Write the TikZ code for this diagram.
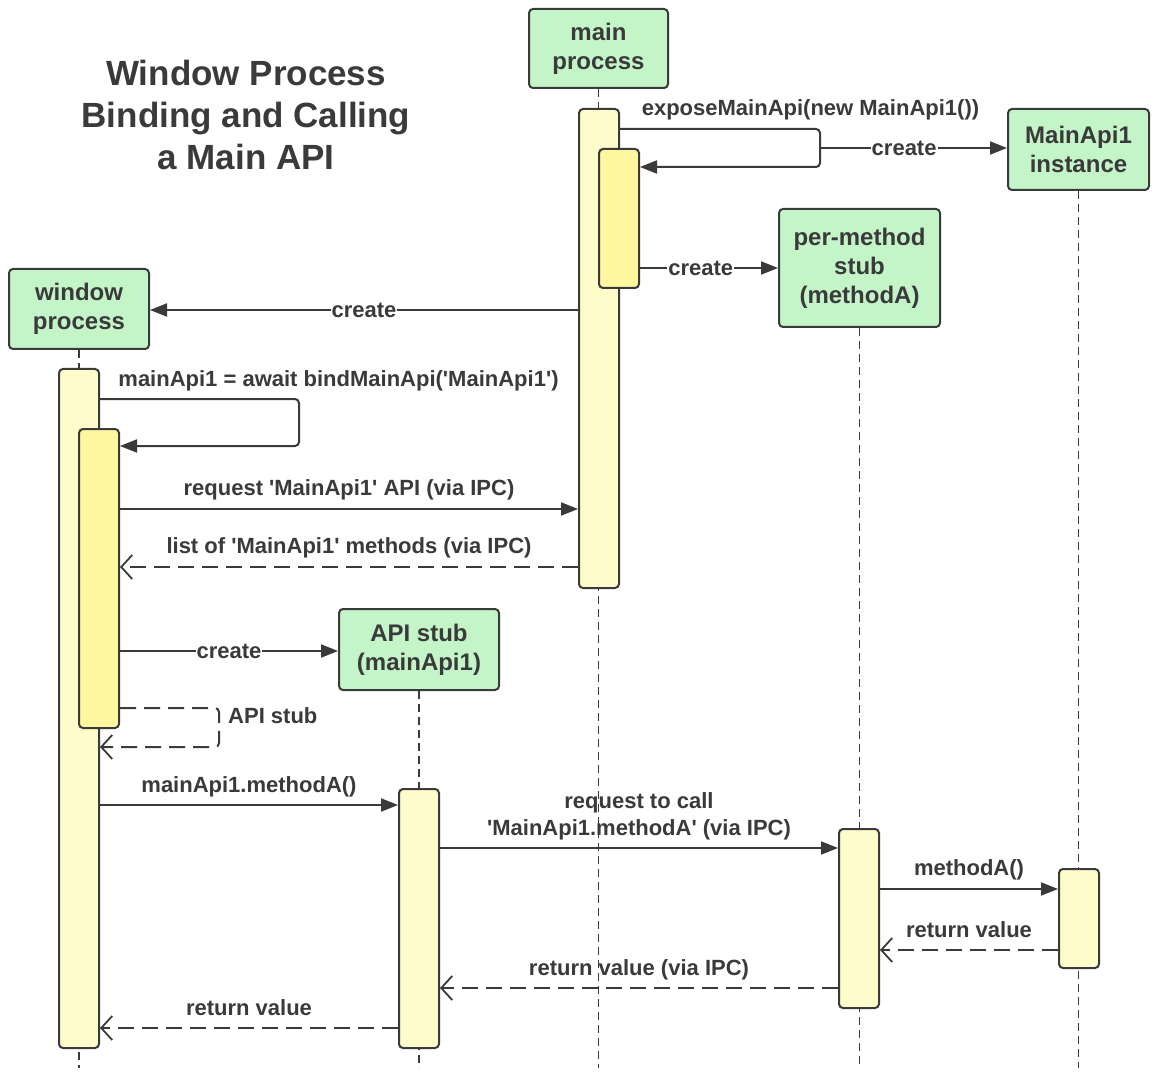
\documentclass[tikz,border=0pt]{standalone}
\usepackage{fontspec}
\setmainfont{Liberation Sans}
\usetikzlibrary{arrows.meta}
\definecolor{ink}{HTML}{3A3A3A}
\definecolor{boxgreen}{HTML}{C3F5C8}
\definecolor{actpale}{HTML}{FFFCCB}
\definecolor{actyel}{HTML}{FFF7A0}
\newcommand{\sq}{\textquotesingle}
\begin{document}
\begin{tikzpicture}[x=1pt,y=-1pt,
  lifebox/.style={draw=ink,line width=2pt,fill=boxgreen,rounded corners=4pt,align=center,inner sep=0pt,
    font=\fontsize{24}{29}\selectfont\bfseries,text=ink},
  actbox/.style={draw=ink,line width=2pt,fill=actpale,rounded corners=4pt,minimum width=40pt,inner sep=0pt},
  actinner/.style={actbox,fill=actyel},
  lifeline/.style={draw=ink,line width=1.5pt,dash pattern=on 8pt off 5pt},
  msg/.style={draw=ink,line width=2pt,-{Triangle[length=17pt,width=13pt]}},
  ret/.style={draw=ink,line width=2pt,dash pattern=on 16pt off 8pt,-{Straight Barb[length=11pt,width=24pt,line width=1.8pt]}},
  lbl/.style={font=\fontsize{22}{27}\selectfont\bfseries,text=ink,inner sep=0pt,anchor=base,align=center},
  onlbl/.style={font=\fontsize{22}{27}\selectfont\bfseries,text=ink,fill=white,inner sep=1pt},
  titlelbl/.style={font=\fontsize{35}{42}\selectfont\bfseries,text=ink,inner sep=0pt,anchor=base,align=center}
]
\useasboundingbox (0,0) rectangle (1157,1075);
\fill[white] (0,0) rectangle (1157,1075);
\coordinate (bottom) at (0,1068);

% title (anchor=base refers to the last line)
\node[titlelbl] (title) at (246,170) {Window Process\\Binding and Calling\\a Main API};

% participant boxes
\node[lifebox,minimum width=139pt,minimum height=79pt] (mainBox) at (598.5,48.5) {main\\process};
\node[lifebox,minimum width=141pt,minimum height=81pt] (instBox) at (1078.5,149.5) {MainApi1\\instance};
\node[lifebox,minimum width=161pt,minimum height=118pt] (pmBox) at (859.5,268) {per-method\\stub\\(methodA)};
\node[lifebox,minimum width=140pt,minimum height=80pt] (winBox) at (79,309) {window\\process};
\node[lifebox,minimum width=160pt,minimum height=81pt] (stubBox) at (419,649.5) {API stub\\(mainApi1)};

% lifelines
\draw[lifeline] (mainBox.south) -- (mainBox.south |- bottom);
\draw[lifeline] (instBox.south) -- (instBox.south |- bottom);
\draw[lifeline] (pmBox.south) -- (pmBox.south |- bottom);
\draw[lifeline] (winBox.south) -- (winBox.south |- bottom);
\draw[lifeline] (stubBox.south) -- (stubBox.south |- bottom);

% activations
\node[actbox,minimum height=479pt] (mainOuter) at (599,348.5) {};
\node[actinner,minimum height=139pt] (mainInner) at (619,218.5) {};
\node[actbox,minimum height=679pt] (winOuter) at (79,708.5) {};
\node[actinner,minimum height=299pt] (winInner) at (99,578.5) {};
\node[actbox,minimum height=259pt] (stubAct) at (419,918.5) {};
\node[actbox,minimum height=179pt] (pmAct) at (859,918.5) {};
\node[actbox,minimum height=99pt] (instAct) at (1079,918.5) {};

% exposeMainApi self call
\coordinate (loopA) at (820,148);
\draw[msg,rounded corners=4pt] (mainOuter.east |- 0,129) -- (820,129) -- (820,167) -- (mainInner.east |- 0,167);
\node[lbl] (lExpose) at (810.5,116) {exposeMainApi(new MainApi1())};
\draw[msg] (loopA) -- node[onlbl,pos=0.45] (lCreate1) {create} (instBox.west |- loopA);

% create per-method stub
\draw[msg] (mainInner.east |- pmBox.west) -- node[onlbl,pos=0.44] (lCreate2) {create} (pmBox.west);

% create window
\draw[msg] (mainOuter.west |- 0,310) -- node[onlbl,pos=0.5] (lCreate3) {create} (winBox.east |- 0,310);

% bindMainApi self call
\draw[msg,rounded corners=4pt] (winOuter.east |- 0,399) -- (299,399) -- (299,446) -- (winInner.east |- 0,446);
\node[lbl] (lBind) at (338.5,387) {mainApi1 = await bindMainApi(\sq MainApi1\sq)};

% request API
\draw[msg] (winInner.east |- 0,509) -- (mainOuter.west |- 0,509);
\node[lbl] (lReq) at (349,495) {request \sq MainApi1\sq{} API (via IPC)};

% list of methods
\draw[ret] (mainOuter.west |- 0,567) -- (winInner.east |- 0,567);
\node[lbl] (lList) at (349,553) {list of \sq MainApi1\sq{} methods (via IPC)};

% create API stub
\draw[msg] (winInner.east |- 0,651) -- node[onlbl,pos=0.5] (lCreate4) {create} (stubBox.west |- 0,651);

% API stub return self
\draw[ret,rounded corners=4pt] (winInner.east |- 0,708) -- (219,708) -- (219,747) -- (winOuter.east |- 0,747);
\node[lbl,anchor=base west] (lStub) at (228,723) {API stub};

% mainApi1.methodA()
\draw[msg] (winOuter.east |- 0,805) -- (stubAct.west |- 0,805);
\node[lbl] (lCallA) at (249,792) {mainApi1.methodA()};

% request to call (anchor=base refers to the last line)
\draw[msg] (stubAct.east |- 0,848) -- (pmAct.west |- 0,848);
\node[lbl] (lReqCall) at (639,835) {request to call\\\sq MainApi1.methodA\sq{} (via IPC)};

% methodA()
\draw[msg] (pmAct.east |- 0,889) -- (instAct.west |- 0,889);
\node[lbl] (lMethA) at (969,875) {methodA()};

% return value (instance)
\draw[ret] (instAct.west |- 0,950) -- (pmAct.east |- 0,950);
\node[lbl] (lRet1) at (969,937) {return value};

% return value (via IPC)
\draw[ret] (pmAct.west |- 0,988) -- (stubAct.east |- 0,988);
\node[lbl] (lRet2) at (639,975) {return value (via IPC)};

% return value (stub)
\draw[ret] (stubAct.west |- 0,1028) -- (winOuter.east |- 0,1028);
\node[lbl] (lRet3) at (249,1015) {return value};
\end{tikzpicture}
\end{document}
